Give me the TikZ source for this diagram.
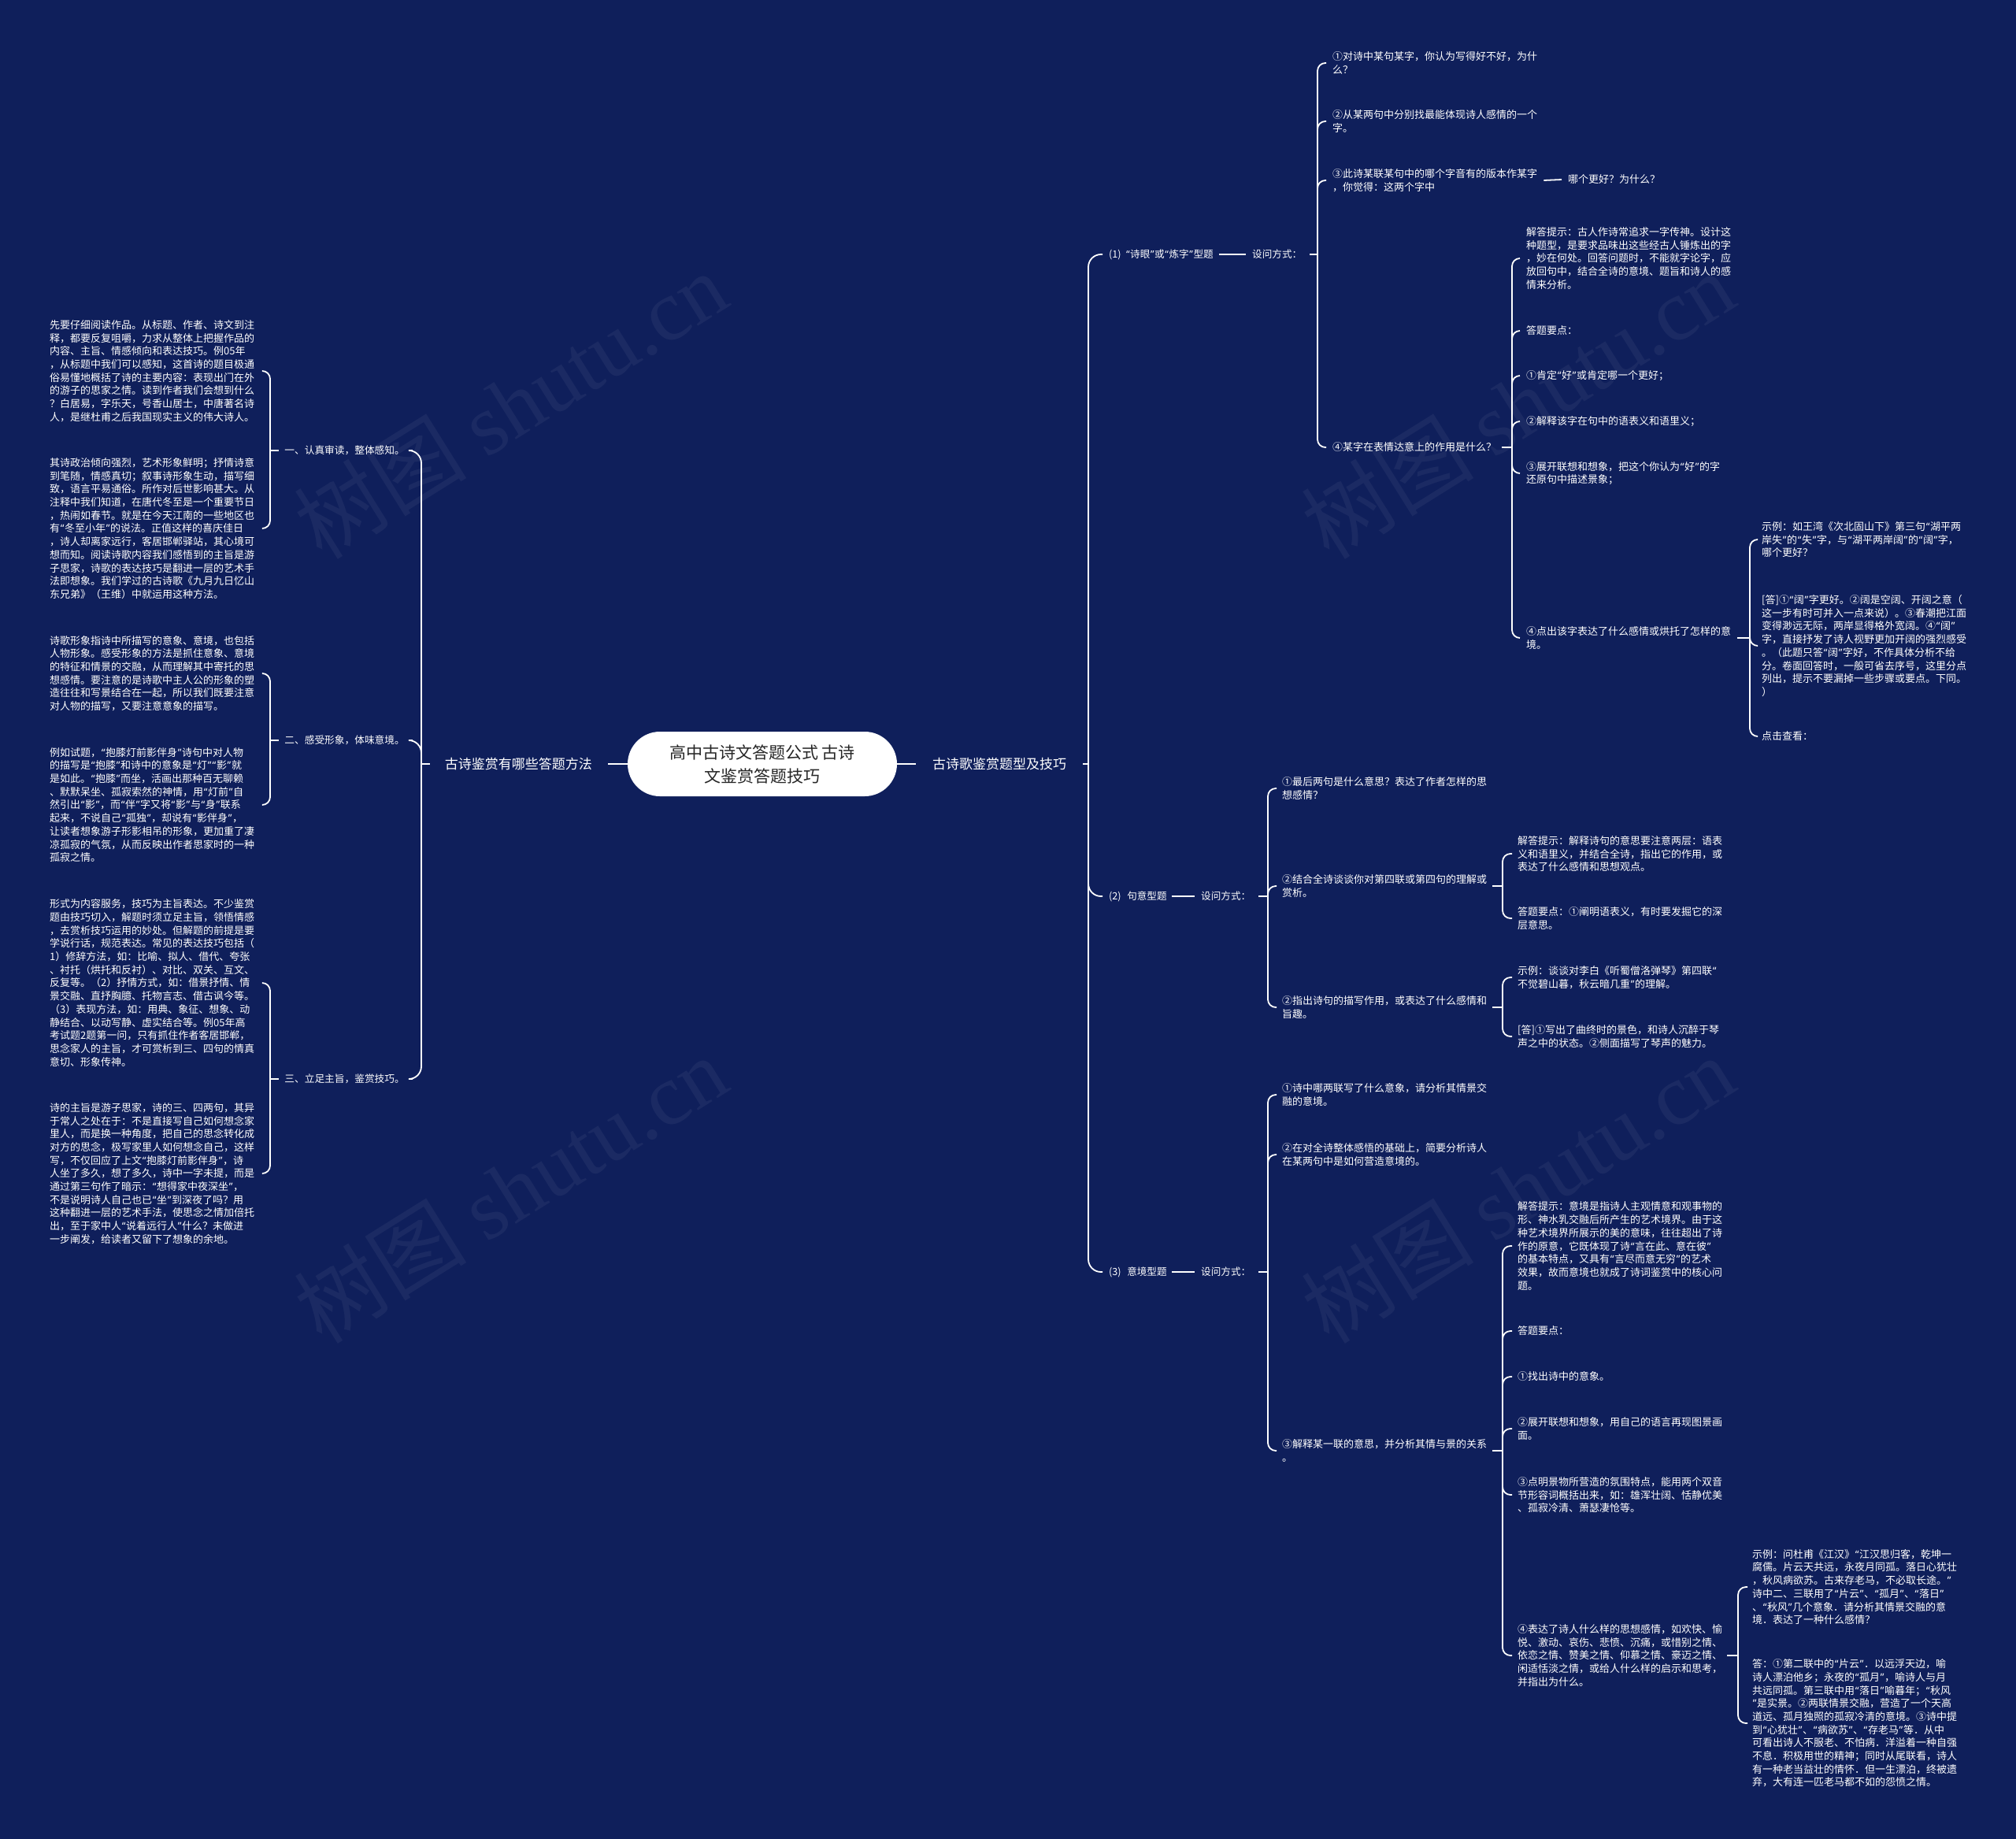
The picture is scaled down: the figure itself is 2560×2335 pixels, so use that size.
\documentclass[tikz,border=0pt]{standalone}
\usepackage{fontspec}
\setmainfont{Noto Sans CJK SC}
\newfontfamily\wmserif{Liberation Serif}
\newfontfamily\qfont{Noto Sans}
\catcode`“=13 \def“{{\qfont\kern0.05em\char"201C\kern0.05em}}
\catcode`”=13 \def”{{\qfont\kern0.05em\char"201D\kern0.05em}}
\definecolor{bgnavy}{HTML}{0F1F5B}
\newcommand{\fsDet}{\fontsize{13}{16.7}\selectfont}
\newcommand{\fsLvl}{\fontsize{12.7}{15}\selectfont}
\newcommand{\fsLvr}{\fontsize{12.6}{15}\selectfont}
\newcommand{\fsMain}{\fontsize{17}{20}\selectfont}
\newcommand{\fsTitle}{\fontsize{21}{30}\selectfont}
\newcommand{\fsWm}{\fontsize{110}{120}\selectfont}
\begin{document}
\begin{tikzpicture}[x=1pt,y=-1pt,
 conn/.style={draw=white,line width=1.8pt,rounded corners=10pt},
 bigconn/.style={draw=white,line width=1.8pt,rounded corners=16pt},
 det/.style={text=white,font=\fsDet,align=left,inner sep=0pt,anchor=west},
 lvlL/.style={text=white,font=\fsLvl,inner sep=0pt,anchor=east},
 lvlR/.style={text=white,font=\fsLvr,inner sep=0pt,anchor=west},
 mainlbl/.style={text=white,font=\fsMain,inner sep=0pt},
 rootbox/.style={fill=white,text=black!85,font=\fsTitle,align=center,rounded corners=41pt,minimum width=342pt,minimum height=82pt,inner sep=0pt},
 wm/.style={text=white,text opacity=0.05,rotate=32,font=\fsWm}
]
\useasboundingbox (0,0) rectangle (2560,2335);
\fill[bgnavy] (0,0) rectangle (2560,2335);

% watermarks
\node[wm] (wm1) at (648,514) {树图 {\wmserif shutu.cn}};
\node[wm] (wm2) at (1927,514) {树图 {\wmserif shutu.cn}};
\node[wm] (wm3) at (648,1510) {树图 {\wmserif shutu.cn}};
\node[wm] (wm4) at (1927,1510) {树图 {\wmserif shutu.cn}};

% root and main branches
\node[rootbox] (root) at (968,970) {高中古诗文答题公式 古诗\\文鉴赏答题技巧};
\node[mainlbl,anchor=east] (L) at (752,970) {古诗鉴赏有哪些答题方法};
\node[mainlbl,anchor=west] (R) at (1184,970) {古诗歌鉴赏题型及技巧};
\draw[conn] (root.west) -- ([xshift=20pt]L.east);
\draw[conn] (root.east) -- ([xshift=-21pt]R.west);
\coordinate (jL) at (535,970);
\coordinate (jR) at (1382,970);
\draw[conn] ([xshift=-19pt]L.west) -- (jL);
\draw[conn] ([xshift=21pt]R.east) -- (jR);

% ===== LEFT =====
\node[lvlL] (l1) at (514,572) {一、认真审读，整体感知。};
\node[lvlL] (l2) at (514,940) {二、感受形象，体味意境。};
\node[lvlL] (l3) at (514,1370) {三、立足主旨，鉴赏技巧。};
\draw[bigconn] (jL) |- ([xshift=10pt]l1.east);
\draw[bigconn] (jL) |- ([xshift=10pt]l2.east);
\draw[bigconn] (jL) |- ([xshift=10pt]l3.east);

\node[det] (t11) at (63,471) {先要仔细阅读作品。从标题、作者、诗文到注\\释，都要反复咀嚼，力求从整体上把握作品的\\内容、主旨、情感倾向和表达技巧。例05年\\，从标题中我们可以感知，这首诗的题目极通\\俗易懂地概括了诗的主要内容：表现出门在外\\的游子的思家之情。读到作者我们会想到什么\\？白居易，字乐天，号香山居士，中唐著名诗\\人，是继杜甫之后我国现实主义的伟大诗人。};
\node[det] (t12) at (63,671) {其诗政治倾向强烈，艺术形象鲜明；抒情诗意\\到笔随，情感真切；叙事诗形象生动，描写细\\致，语言平易通俗。所作对后世影响甚大。从\\注释中我们知道，在唐代冬至是一个重要节日\\，热闹如春节。就是在今天江南的一些地区也\\有“冬至小年”的说法。正值这样的喜庆佳日\\，诗人却离家远行，客居邯郸驿站，其心境可\\想而知。阅读诗歌内容我们感悟到的主旨是游\\子思家，诗歌的表达技巧是翻进一层的艺术手\\法即想象。我们学过的古诗歌《九月九日忆山\\东兄弟》（王维）中就运用这种方法。};
\coordinate (b1) at (343,572);
\draw[conn] ([xshift=-7pt]l1.west) -- (b1);
\draw[conn] (b1) |- ([xshift=10pt]t11.east);
\draw[conn] (b1) |- ([xshift=10pt]t12.east);

\node[det] (t21) at (63,855) {诗歌形象指诗中所描写的意象、意境，也包括\\人物形象。感受形象的方法是抓住意象、意境\\的特征和情景的交融，从而理解其中寄托的思\\想感情。要注意的是诗歌中主人公的形象的塑\\造往往和写景结合在一起，所以我们既要注意\\对人物的描写，又要注意意象的描写。};
\node[det] (t22) at (63,1022) {例如试题，“抱膝灯前影伴身”诗句中对人物\\的描写是“抱膝”和诗中的意象是“灯”“影”就\\是如此。“抱膝”而坐，活画出那种百无聊赖\\、默默呆坐、孤寂索然的神情，用“灯前”自\\然引出“影”，而“伴”字又将“影”与“身”联系\\起来，不说自己“孤独”，却说有“影伴身”，\\让读者想象游子形影相吊的形象，更加重了凄\\凉孤寂的气氛，从而反映出作者思家时的一种\\孤寂之情。};
\coordinate (b2) at (343,940);
\draw[conn] ([xshift=-7pt]l2.west) -- (b2);
\draw[conn] (b2) |- ([xshift=10pt]t21.east);
\draw[conn] (b2) |- ([xshift=10pt]t22.east);

\node[det] (t31) at (63,1248) {形式为内容服务，技巧为主旨表达。不少鉴赏\\题由技巧切入，解题时须立足主旨，领悟情感\\，去赏析技巧运用的妙处。但解题的前提是要\\学说行话，规范表达。常见的表达技巧包括（\\1）修辞方法，如：比喻、拟人、借代、夸张\\、衬托（烘托和反衬）、对比、双关、互文、\\反复等。（2）抒情方式，如：借景抒情、情\\景交融、直抒胸臆、托物言志、借古讽今等。\\（3）表现方法，如：用典、象征、想象、动\\静结合、以动写静、虚实结合等。例05年高\\考试题2题第一问，只有抓住作者客居邯郸，\\思念家人的主旨，才可赏析到三、四句的情真\\意切、形象传神。};
\node[det] (t32) at (63,1490) {诗的主旨是游子思家，诗的三、四两句，其异\\于常人之处在于：不是直接写自己如何想念家\\里人，而是换一种角度，把自己的思念转化成\\对方的思念，极写家里人如何想念自己，这样\\写，不仅回应了上文“抱膝灯前影伴身”，诗\\人坐了多久，想了多久，诗中一字未提，而是\\通过第三句作了暗示：“想得家中夜深坐”，\\不是说明诗人自己也已“坐”到深夜了吗？用\\这种翻进一层的艺术手法，使思念之情加倍托\\出，至于家中人“说着远行人”什么？未做进\\一步阐发，给读者又留下了想象的余地。};
\coordinate (b3) at (343,1370);
\draw[conn] ([xshift=-7pt]l3.west) -- (b3);
\draw[conn] (b3) |- ([xshift=10pt]t31.east);
\draw[conn] (b3) |- ([xshift=10pt]t32.east);

% ===== RIGHT =====
\node[lvlR] (r1) at (1408,323) {(1)\hspace{0.45em}“诗眼”或“炼字”型题};
\node[lvlR] (r2) at (1408,1138) {(2)\hspace{0.6em}句意型题};
\node[lvlR] (r3) at (1408,1615) {(3)\hspace{0.6em}意境型题};
\draw[bigconn] (jR) |- ([xshift=-8pt]r1.west);
\draw[bigconn] (jR) |- ([xshift=-8pt]r2.west);
\draw[bigconn] (jR) |- ([xshift=-8pt]r3.west);

% (1)
\node[lvlR] (s1) at (1590,323) {设问方式：};
\draw[conn] ([xshift=7pt]r1.east) -- ([xshift=-8pt]s1.west);
\coordinate (bs1) at (1673,323);
\draw[conn] ([xshift=10pt]s1.east) -- (bs1);
\node[det] (q1) at (1692,80) {①对诗中某句某字，你认为写得好不好，为什\\么？};
\node[det] (q2) at (1692,154) {②从某两句中分别找最能体现诗人感情的一个\\字。};
\node[det] (q3) at (1692,229) {③此诗某联某句中的哪个字音有的版本作某字\\，你觉得：这两个字中};
\node[det] (q4) at (1692,568) {④某字在表情达意上的作用是什么？};
\draw[conn] (bs1) |- ([xshift=-8pt]q1.west);
\draw[conn] (bs1) |- ([xshift=-8pt]q2.west);
\draw[conn] (bs1) |- ([xshift=-8pt]q3.west);
\draw[conn] (bs1) |- ([xshift=-8pt]q4.west);
\node[det] (q3a) at (1991,228) {哪个更好？为什么？};
\draw[conn] ([xshift=8pt]q3.east) -- ([xshift=-8pt]q3a.west);

\coordinate (bq4) at (1920,568);
\draw[conn] ([xshift=7pt]q4.east) -- (bq4);
\node[det] (p1) at (1938,328) {解答提示：古人作诗常追求一字传神。设计这\\种题型，是要求品味出这些经古人锤炼出的字\\，妙在何处。回答问题时，不能就字论字，应\\放回句中，结合全诗的意境、题旨和诗人的感\\情来分析。};
\node[det] (p2) at (1938,420) {答题要点：};
\node[det] (p3) at (1938,477) {①肯定“好”或肯定哪一个更好；};
\node[det] (p4) at (1938,535) {②解释该字在句中的语表义和语里义；};
\node[det] (p5) at (1938,601) {③展开联想和想象，把这个你认为“好”的字\\还原句中描述景象；};
\node[det] (p6) at (1938,810) {④点出该字表达了什么感情或烘托了怎样的意\\境。};
\foreach \n in {p1,p2,p3,p4,p5,p6}{\draw[conn] (bq4) |- ([xshift=-8pt]\n.west);}

\coordinate (bp6) at (2222,810);
\draw[conn] ([xshift=8pt]p6.east) -- (bp6);
\node[det] (e1) at (2237,685) {示例：如王湾《次北固山下》第三句“湖平两\\岸失”的“失”字，与“湖平两岸阔”的“阔”字，\\哪个更好？};
\node[det] (e2) at (2237,820) {[答]①“阔”字更好。②阔是空阔、开阔之意（\\这一步有时可并入一点来说）。③春潮把江面\\变得渺远无际，两岸显得格外宽阔。④“阔”\\字，直接抒发了诗人视野更加开阔的强烈感受\\。（此题只答“阔”字好，不作具体分析不给\\分。卷面回答时，一般可省去序号，这里分点\\列出，提示不要漏掉一些步骤或要点。下同。\\）};
\node[det] (e3) at (2237,935) {点击查看：};
\foreach \n in {e1,e2,e3}{\draw[conn] (bp6) |- ([xshift=-6pt]\n.west);}

% (2)
\node[lvlR] (s2) at (1525,1138) {设问方式：};
\draw[conn] ([xshift=6pt]r2.east) -- ([xshift=-8pt]s2.west);
\coordinate (bs2) at (1610,1138);
\draw[conn] ([xshift=10pt]s2.east) -- (bs2);
\node[det] (m1) at (1628,1001) {①最后两句是什么意思？表达了作者怎样的思\\想感情？};
\node[det] (m2) at (1628,1125) {②结合全诗谈谈你对第四联或第四句的理解或\\赏析。};
\node[det] (m3) at (1628,1279) {②指出诗句的描写作用，或表达了什么感情和\\旨趣。};
\foreach \n in {m1,m2,m3}{\draw[conn] (bs2) |- ([xshift=-7pt]\n.west);}

\coordinate (bm2) at (1908,1125);
\draw[conn] ([xshift=7pt]m2.east) -- (bm2);
\node[det] (m2a) at (1927,1084) {解答提示：解释诗句的意思要注意两层：语表\\义和语里义，并结合全诗，指出它的作用，或\\表达了什么感情和思想观点。};
\node[det] (m2b) at (1927,1166) {答题要点：①阐明语表义，有时要发掘它的深\\层意思。};
\foreach \n in {m2a,m2b}{\draw[conn] (bm2) |- ([xshift=-7pt]\n.west);}

\coordinate (bm3) at (1908,1279);
\draw[conn] ([xshift=7pt]m3.east) -- (bm3);
\node[det] (m3a) at (1927,1241) {示例：谈谈对李白《听蜀僧洛弹琴》第四联“\\不觉碧山暮，秋云暗几重”的理解。};
\node[det] (m3b) at (1927,1316) {[答]①写出了曲终时的景色，和诗人沉醉于琴\\声之中的状态。②侧面描写了琴声的魅力。};
\foreach \n in {m3a,m3b}{\draw[conn] (bm3) |- ([xshift=-7pt]\n.west);}

% (3)
\node[lvlR] (s3) at (1525,1615) {设问方式：};
\draw[conn] ([xshift=6pt]r3.east) -- ([xshift=-8pt]s3.west);
\coordinate (bs3) at (1610,1615);
\draw[conn] ([xshift=10pt]s3.east) -- (bs3);
\node[det] (n1) at (1628,1390) {①诗中哪两联写了什么意象，请分析其情景交\\融的意境。};
\node[det] (n2) at (1628,1466) {②在对全诗整体感悟的基础上，简要分析诗人\\在某两句中是如何营造意境的。};
\node[det] (n3) at (1628,1842) {③解释某一联的意思，并分析其情与景的关系\\。};
\foreach \n in {n1,n2,n3}{\draw[conn] (bs3) |- ([xshift=-7pt]\n.west);}

\coordinate (bn3) at (1908,1842);
\draw[conn] ([xshift=7pt]n3.east) -- (bn3);
\node[det] (k1) at (1927,1582) {解答提示：意境是指诗人主观情意和观事物的\\形、神水乳交融后所产生的艺术境界。由于这\\种艺术境界所展示的美的意味，往往超出了诗\\作的原意，它既体现了诗“言在此、意在彼”\\的基本特点，又具有“言尽而意无穷”的艺术\\效果，故而意境也就成了诗词鉴赏中的核心问\\题。};
\node[det] (k2) at (1927,1690) {答题要点：};
\node[det] (k3) at (1927,1748) {①找出诗中的意象。};
\node[det] (k4) at (1927,1814) {②展开联想和想象，用自己的语言再现图景画\\面。};
\node[det] (k5) at (1927,1898) {③点明景物所营造的氛围特点，能用两个双音\\节形容词概括出来，如：雄浑壮阔、恬静优美\\、孤寂冷清、萧瑟凄怆等。};
\node[det] (k6) at (1927,2102) {④表达了诗人什么样的思想感情，如欢快、愉\\悦、激动、哀伤、悲愤、沉痛，或惜别之情、\\依恋之情、赞美之情、仰慕之情、豪迈之情、\\闲适恬淡之情，或给人什么样的启示和思考，\\并指出为什么。};
\foreach \n in {k1,k2,k3,k4,k5,k6}{\draw[conn] (bn3) |- ([xshift=-7pt]\n.west);}

\coordinate (bk6) at (2207,2102);
\draw[conn] ([xshift=6pt]k6.east) -- (bk6);
\node[det] (k6a) at (2225,2015) {示例：问杜甫《江汉》“江汉思归客，乾坤一\\腐儒。片云天共远，永夜月同孤。落日心犹壮\\，秋风病欲苏。古来存老马，不必取长途。”\\诗中二、三联用了“片云”、“孤月”、“落日”\\、“秋风”几个意象．请分析其情景交融的意\\境．表达了一种什么感情？};
\node[det] (k6b) at (2225,2188) {答：①第二联中的“片云”．以远浮天边，喻\\诗人漂泊他乡；永夜的“孤月”，喻诗人与月\\共远同孤。第三联中用“落日”喻暮年；“秋风\\”是实景。②两联情景交融，营造了一个天高\\道远、孤月独照的孤寂冷清的意境。③诗中提\\到“心犹壮”、“病欲苏”、“存老马”等．从中\\可看出诗人不服老、不怕病．洋溢着一种自强\\不息．积极用世的精神；同时从尾联看，诗人\\有一种老当益壮的情怀．但一生漂泊，终被遗\\弃，大有连一匹老马都不如的怨愤之情。};
\foreach \n in {k6a,k6b}{\draw[conn] (bk6) |- ([xshift=-6pt]\n.west);}
\end{tikzpicture}
\end{document}
